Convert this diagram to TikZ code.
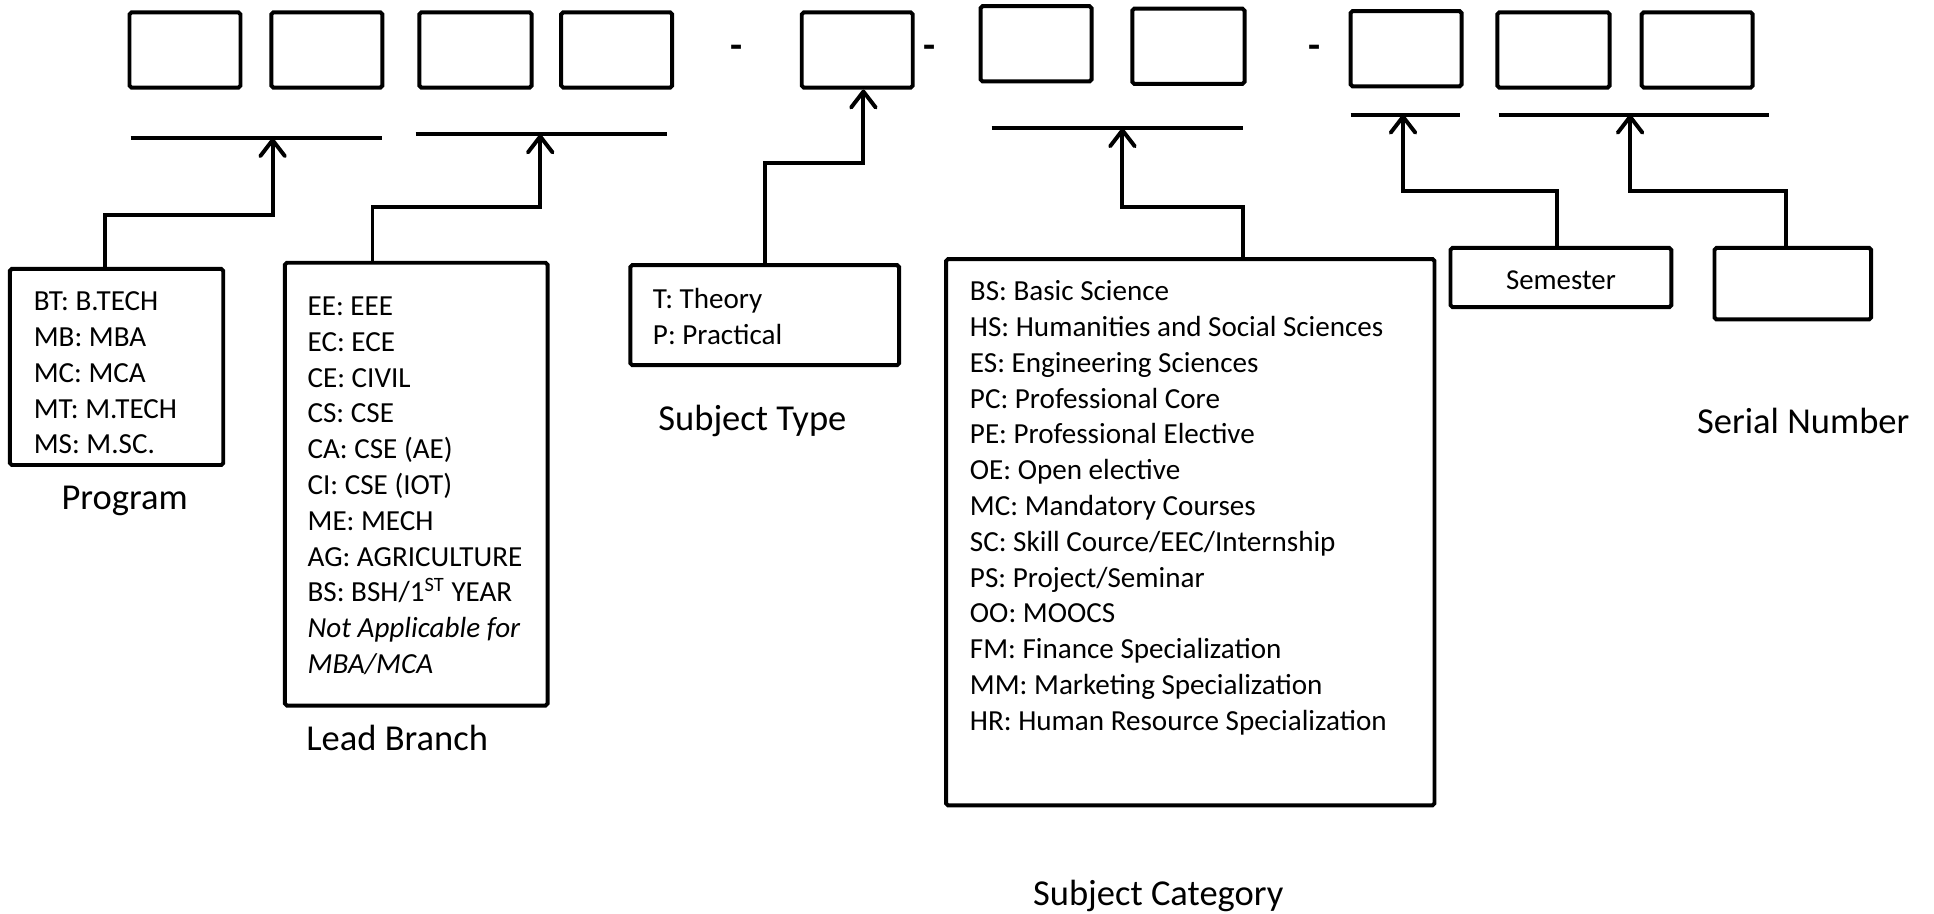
\documentclass[tikz,border=0pt]{standalone}
\usepackage{fontspec}
\setmainfont{Carlito}
\usetikzlibrary{arrows.meta,fit}
\begin{document}
\begin{tikzpicture}[x=0.5pt,y=-0.5pt,
  lw/.style={line width=1.6pt},
  sq/.style={draw,lw,inner sep=0pt,rounded corners=0.8pt},
  bar/.style={draw,lw},
  conn/.style={lw,-{Straight Barb[length=6.5pt,width=10pt,round]}},
  listtxt/.style={anchor=north west,align=left,inner sep=0pt,font=\fontsize{11.8}{14.5}\selectfont},
  smalltxt/.style={inner sep=0pt,font=\fontsize{11.7}{14}\selectfont},
  title/.style={inner sep=0pt,font=\fontsize{14.8}{17}\selectfont},
  dashmark/.style={inner sep=0pt,font=\fontsize{16}{18}\selectfont\bfseries}
]
\useasboundingbox (0,0) rectangle (1568,741);

% top code boxes
\node[sq,fit={(105,10)(195,71)}] (b1) {};
\node[sq,fit={(220,10)(310,71)}] (b2) {};
\node[sq,fit={(340,10)(431,71)}] (b3) {};
\node[sq,fit={(455,10)(545,71)}] (b4) {};
\node[sq,fit={(650,10)(740,71)}] (b5) {};
\node[sq,fit={(795,5)(885,66)}] (b6) {};
\node[sq,fit={(918,7)(1009,68)}] (b7) {};
\node[sq,fit={(1095,9)(1185,70)}] (b8) {};
\node[sq,fit={(1214,10)(1305,71)}] (b9) {};
\node[sq,fit={(1331,10)(1421,71)}] (b10) {};

% separators
\node[dashmark] (d1) at (597,42) {-};
\node[dashmark] (d2) at (754,42) {-};
\node[dashmark] (d3) at (1066,42) {-};

% bracket lines
\coordinate (l1a) at (106,112); \coordinate (l1b) at (310,112);
\coordinate (l2a) at (337,109); \coordinate (l2b) at (541,109);
\coordinate (l6a) at (804,104); \coordinate (l6b) at (1008,104);
\coordinate (l8a) at (1095,93); \coordinate (l8b) at (1184,93);
\coordinate (l9a) at (1215,93); \coordinate (l9b) at (1434,93);
\draw[bar] (l1a) -- (l1b);
\draw[bar] (l2a) -- (l2b);
\draw[bar] (l6a) -- (l6b);
\draw[bar] (l8a) -- (l8b);
\draw[bar] (l9a) -- (l9b);

% lower boxes
\node[sq,fit={(8,218)(181,377)}] (prog) {};
\node[sq,fit={(231,213)(444,572)}] (lead) {};
\node[sq,fit={(511,215)(729,296)}] (stype) {};
\node[sq,fit={(767,210)(1163,653)}] (cat) {};
\node[sq,fit={(1176,201)(1355,249)}] (sem) {};
\node[sq,fit={(1390,201)(1517,259)}] (ser) {};

% box texts
\node[listtxt] (progtxt) at (27,231.2) {\strut BT: B.TECH\\MB: MBA\\MC: MCA\\MT: M.TECH\\MS: M.SC.};
\node[listtxt] (leadtxt) at (249,235.2) {\strut EE: EEE\\EC: ECE\\CE: CIVIL\\CS: CSE\\CA: CSE (AE)\\CI: CSE (IOT)\\ME: MECH\\AG: AGRICULTURE\\BS: BSH/1\textsuperscript{ST} YEAR\\\textit{Not Applicable for}\\\textit{MBA/MCA}};
\node[listtxt] (stypetxt) at (529,229.2) {\strut T: Theory\\P: Practical};
\node[listtxt] (cattxt) at (786,223.2) {\strut BS: Basic Science\\HS: Humanities and Social Sciences\\ES: Engineering Sciences\\PC: Professional Core\\PE: Professional Elective\\OE: Open elective\\MC: Mandatory Courses\\SC: Skill Cource/EEC/Internship\\PS: Project/Seminar\\OO: MOOCS\\FM: Finance Specialization\\MM: Marketing Specialization\\HR: Human Resource Specialization};
\node[smalltxt] (semtxt) at ([yshift=-1pt]sem.center) {Semester};

% titles
\node[title] (progt) at (101,406) {Program};
\node[title] (leadt) at (322,598) {Lead Branch};
\node[title] (stypet) at (610,341) {Subject Type};
\node[title] (catt) at (939,726) {Subject Category};
\node[title] (sert) at (1462,341) {Serial Number};

% connectors
\coordinate (s1) at (85,174);   \coordinate (t1) at (221,112);
\coordinate (s2) at (302,168);  \coordinate (t2) at (438,109);
\coordinate (s5) at (620,132);  \coordinate (t5) at (700,132);
\coordinate (s6) at (1008,168); \coordinate (t6) at (910,104);
\coordinate (s8) at (1262,155); \coordinate (t8) at (1137.5,93);
\coordinate (s9) at (1448,155); \coordinate (t9) at (1321.6,93);

\draw[conn] (prog.north -| s1) -- (s1) -- (s1 -| t1) -- (t1);
\draw[conn] (lead.north -| s2) -- (s2) -- (s2 -| t2) -- (t2);
\draw[conn] (stype.north -| s5) -- (s5) -- (t5) -- (b5.south -| t5);
\draw[conn] (cat.north -| s6) -- (s6) -- (s6 -| t6) -- (t6);
\draw[conn] (sem.north -| s8) -- (s8) -- (s8 -| t8) -- (t8);
\draw[conn] (ser.north -| s9) -- (s9) -- (s9 -| t9) -- (t9);
\end{tikzpicture}
\end{document}
